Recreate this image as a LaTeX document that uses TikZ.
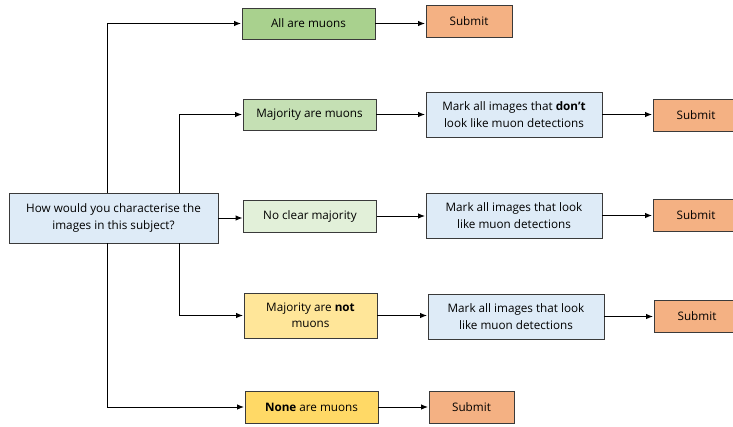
\documentclass[tikz,border=0pt]{standalone}
\usepackage{fontspec}
\setmainfont{Open Sans}
\usepackage{xcolor}
\usetikzlibrary{arrows.meta,%
		positioning,%
		calc}
\definecolor{qblue}{HTML}{DEEBF7}
\definecolor{gdark}{HTML}{A9D18E}
\definecolor{gmid}{HTML}{C5E0B4}
\definecolor{glight}{HTML}{E2F0D9}
\definecolor{ylight}{HTML}{FFE699}
\definecolor{ydark}{HTML}{FFD966}
\definecolor{orng}{HTML}{F4B183}
\definecolor{brd}{HTML}{3A3A3A}
\tikzset{box/.style={draw=brd,line width=0.9pt,align=center,inner sep=0pt,
    font=\fontsize{11.7}{16.5}\selectfont},
  ans/.style={box,minimum width=133,minimum height=31},
  submitbox/.style={box,fill=orng,minimum width=86,minimum height=32},
  markbox/.style={box,fill=qblue,minimum width=176,minimum height=45},
  conn/.style={-{Latex[length=7pt,width=5.5pt]},line width=1pt,shorten >=0.5pt}}

\begin{document}
\begin{tikzpicture}[x=1pt,y=-1pt]

  \useasboundingbox (0,0) rectangle (733,426);%la pagina
  \node[box,fill=qblue,minimum width=209,minimum height=50] (q) at (113.5,218) {How would you characterise the\\images in this subject?};%la domanda
  \node[ans,fill=gdark] (all) at (308.5,23.5) {All are muons};%tutti
  \node[ans,fill=gmid] (most) at (309.5,114.5) {Majority are muons};%maggioranza
  \node[ans,fill=glight,minimum height=32] (noclear) at (310,216) {No clear majority};%nessuna maggioranza
  \node[ans,fill=ylight,minimum height=45] (mostnot) at (310.5,315.5) {Majority are \textbf{not}\\muons};%maggioranza no
  \node[ans,fill=ydark,minimum height=32] (none) at (311.5,407) {\textbf{None} are muons};%nessuno
  \node[markbox] (markdont) at (514,114.5) {Mark all images that \textbf{don’t}\\look like muon detections};
  \node[markbox] (markdo) at (514,215.5) {Mark all images that look\\like muon detections};
  \node[markbox] (markdob) at (516,316.5) {Mark all images that look\\like muon detections};
  \node[submitbox] (suball) at (469,21) {Submit};
  \node[submitbox] (submost) at (696,115) {Submit};
  \node[submitbox] (subnoclear) at (696,215) {Submit};
  \node[submitbox] (submostnot) at (697,316) {Submit};
  \node[submitbox,minimum width=85] (subnone) at (471.5,407) {Submit};
  \draw[conn] ([xshift=-6.5]q.north) |- (all.west);%ramo in alto
  \draw[conn] ([xshift=65.5]q.north) |- (most.west);
  \draw[conn] (q.east) -- (q.east -| noclear.west);
  \draw[conn] ([xshift=65.5]q.south) |- (mostnot.west);
  \draw[conn] ([xshift=-6.5]q.south) |- (none.west);%ramo in basso
  \draw[conn] (all.east) -- (all.east -| suball.west);
  \draw[conn] (most.east) -- (most.east -| markdont.west);
  \draw[conn] (markdont.east) -- (markdont.east -| submost.west);
  \draw[conn] (noclear.east) -- (noclear.east -| markdo.west);
  \draw[conn] (markdo.east) -- (markdo.east -| subnoclear.west);
  \draw[conn] (mostnot.east) -- (mostnot.east -| markdob.west);
  \draw[conn] (markdob.east) -- (markdob.east -| submostnot.west);
  \draw[conn] (none.east) -- (none.east -| subnone.west);
\end{tikzpicture}
\end{document}
